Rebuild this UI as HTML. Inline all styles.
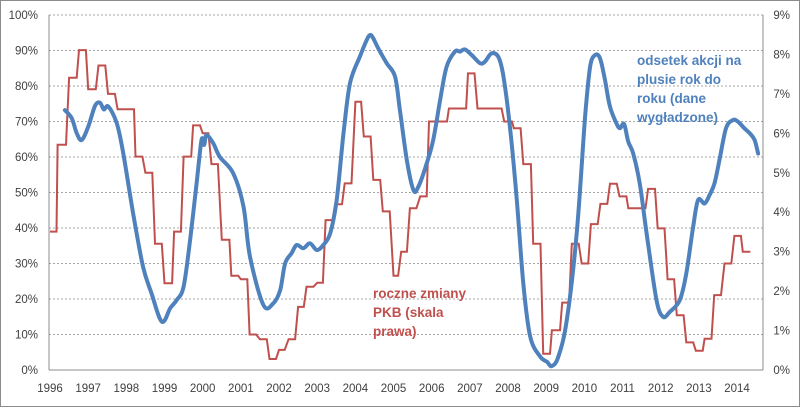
<!DOCTYPE html>
<html><head><meta charset="utf-8">
<style>
html,body{margin:0;padding:0;background:#fff;}
body{width:800px;height:407px;overflow:hidden;font-family:"Liberation Sans",sans-serif;}
svg text{font-family:"Liberation Sans",sans-serif;}
</style></head>
<body>
<svg id="chart" width="800" height="407" xmlns="http://www.w3.org/2000/svg">
<rect x="0.5" y="0.5" width="799" height="406" fill="#fff" stroke="#8c8c8c" stroke-width="1"/>
<g id="grid"></g>
<g id="axes"></g>
<g id="series"></g>
<text fill="#4f81bd" font-size="13.5" font-weight="bold">
<tspan x="637" y="65">odsetek akcji na</tspan>
<tspan x="637" y="84">plusie rok do</tspan>
<tspan x="637" y="103">roku (dane</tspan>
<tspan x="637" y="122">wygładzone)</tspan>
</text>
<text fill="#c0504d" font-size="13.5" font-weight="bold">
<tspan x="373" y="298">roczne zmiany</tspan>
<tspan x="373" y="317">PKB (skala</tspan>
<tspan x="373" y="336">prawa)</tspan>
</text>
</svg>
<script>
const leftTicks = ["0%","10%","20%","30%","40%","50%","60%","70%","80%","90%","100%"];
const rightTicks = ["0%","1%","2%","3%","4%","5%","6%","7%","8%","9%"];
const yearTicks = [1996,1997,1998,1999,2000,2001,2002,2003,2004,2005,2006,2007,2008,2009,2010,2011,2012,2013,2014];

const blueYears = [1996.39,1996.57,1996.70,1996.83,1997.0,1997.18,1997.31,1997.41,1997.53,1997.75,1997.92,1998.18,1998.44,1998.66,1998.93,1999.15,1999.32,1999.50,1999.67,1999.84,1999.97,2000.04,2000.10,2000.28,2000.45,2000.80,2001.07,2001.24,2001.59,2001.85,2002.03,2002.16,2002.33,2002.46,2002.64,2002.81,2002.99,2003.16,2003.34,2003.51,2003.69,2003.86,2004.12,2004.30,2004.39,2004.47,2004.60,2004.82,2005.04,2005.17,2005.35,2005.52,2005.65,2005.87,2006.04,2006.22,2006.39,2006.61,2006.74,2006.87,2007.05,2007.27,2007.40,2007.57,2007.75,2007.88,2008.05,2008.23,2008.40,2008.58,2008.84,2009.02,2009.15,2009.32,2009.54,2009.80,2010.02,2010.15,2010.28,2010.41,2010.54,2010.67,2010.84,2010.93,2011.04,2011.15,2011.28,2011.45,2011.63,2011.89,2012.06,2012.24,2012.50,2012.67,2012.85,2012.98,2013.15,2013.28,2013.41,2013.54,2013.71,2013.89,2014.02,2014.19,2014.33,2014.46,2014.55];
const blueValues = [73.2,70.9,66.7,64.8,68.5,74.4,75.3,73.4,74.2,69.5,61,44,29,21.6,13.6,17.4,19.7,23.5,36.6,52.6,64.8,63.4,66.2,63.8,60,55.4,46,31.9,18.3,18.8,22.5,30,32.9,35.2,34.3,35.7,33.8,35.2,38.5,47.9,66.7,80.8,88.3,93,94.4,93.4,90.6,86.4,82.6,73,59,50.7,51.6,58.2,64.8,76,85.4,89.7,89.7,90.3,88.7,86.4,86.9,89.2,88.1,82.6,68.5,47.9,24.4,9.4,3.8,2.3,1.1,3.8,14.1,38.5,71.4,85.4,88.7,87.8,81.7,74.2,69.5,68.1,69.3,64.3,61,52.6,38.5,19.7,15,16.4,19.7,27.2,40.4,47.9,46.9,49.3,52.6,59.2,68.1,70.4,70,68.1,66.7,64.8,61];

const redStart = [1996.0,1996.2,1996.5,1996.76,1997.0,1997.27,1997.52,1997.77,1998.24,1998.5,1998.75,1999.0,1999.25,1999.5,1999.75,2000.0,2000.23,2000.5,2000.75,2001.0,2001.23,2001.5,2001.75,2002.0,2002.25,2002.5,2002.72,2003.0,2003.22,2003.47,2003.72,2004.0,2004.22,2004.47,2004.72,2005.0,2005.2,2005.43,2005.7,2005.93,2006.45,2006.95,2007.2,2007.9,2008.15,2008.4,2008.66,2008.92,2009.15,2009.42,2009.67,2009.93,2010.17,2010.42,2010.67,2010.92,2011.15,2011.67,2011.92,2012.18,2012.42,2012.67,2012.92,2013.15,2013.4,2013.67,2013.93,2014.15];
const redEnd = [1996.17,1996.42,1996.7,1996.94,1997.2,1997.45,1997.7,1998.2,1998.42,1998.68,1998.93,1999.2,1999.43,1999.7,1999.93,2000.15,2000.4,2000.7,2000.93,2001.17,2001.4,2001.68,2001.92,2002.15,2002.42,2002.65,2002.9,2003.15,2003.4,2003.65,2003.9,2004.15,2004.4,2004.65,2004.9,2005.12,2005.35,2005.6,2005.87,2006.4,2006.9,2007.12,2007.83,2008.1,2008.33,2008.6,2008.85,2009.1,2009.36,2009.6,2009.85,2010.1,2010.35,2010.6,2010.85,2011.1,2011.6,2011.85,2012.1,2012.35,2012.6,2012.85,2013.1,2013.33,2013.58,2013.85,2014.1,2014.35];
const redValues = [3.51,5.71,7.41,8.11,7.12,7.72,7.0,6.61,5.41,5.0,3.2,2.2,3.51,5.41,6.2,6.0,5.22,3.3,2.39,2.3,0.9,0.78,0.28,0.51,0.78,1.6,2.11,2.21,3.8,4.2,4.73,6.8,5.92,4.82,4.02,2.39,3.0,4.1,4.4,6.3,6.63,7.52,6.63,6.3,6.13,5.22,3.2,0.41,1.01,1.71,3.2,2.7,3.7,4.21,4.72,4.4,4.1,4.59,3.59,2.3,1.39,0.70,0.49,0.79,1.9,2.7,3.4,3.0];

const NS = "http://www.w3.org/2000/svg";
const PL = 49, PR = 763, PT = 15, PB = 370;
const xScale = t => 50 + (t - 1996) * 38.17;
const yLeft = v => PB - v / 100 * (PB - PT);
const yRight = v => PB - v / 9 * (PB - PT);
function mk(tag, attrs, parent, txt){
  const e = document.createElementNS(NS, tag);
  for (const k in attrs) e.setAttribute(k, attrs[k]);
  if (txt !== undefined) e.textContent = txt;
  parent.appendChild(e);
  return e;
}
const grid = document.getElementById('grid');
const axes = document.getElementById('axes');
const series = document.getElementById('series');

leftTicks.forEach((lab, i) => {
  const v = i * 10, y = yLeft(v);
  if (i > 0) {
    const g = mk('line', {x1: PL, x2: PR, y1: y, y2: y, stroke: '#a6a6a6', 'stroke-width': 1, 'stroke-dasharray': '2,2'}, grid);
    
    
  }
  const t = mk('text', {x: 38, y: y + 4, 'text-anchor': 'end', 'font-size': 11.5, fill: '#404040'}, axes, lab);
  
  
});
rightTicks.forEach((lab, i) => {
  const y = yRight(i);
  const t = mk('text', {x: 790, y: y + 4, 'text-anchor': 'end', 'font-size': 11.5, fill: '#404040'}, axes, lab);
  
  
});
yearTicks.forEach(yr => {
  const t = mk('text', {x: xScale(yr), y: 392, 'text-anchor': 'middle', 'font-size': 11.5, fill: '#404040'}, axes, String(yr));
  
  
});
const la = mk('line', {x1: PL, x2: PL, y1: PT, y2: PB, stroke: '#8c8c8c'}, axes);


const ra = mk('line', {x1: PR, x2: PR, y1: PT, y2: PB, stroke: '#8c8c8c'}, axes);


const ba = mk('line', {x1: PL, x2: PR, y1: PB, y2: PB, stroke: '#8c8c8c'}, axes);



let rd = '';
redValues.forEach((v, i) => {
  rd += (i === 0 ? 'M' : 'L') + xScale(redStart[i]).toFixed(1) + ',' + yRight(v).toFixed(1) + 'L' + xScale(redEnd[i]).toFixed(1) + ',' + yRight(v).toFixed(1);
});
const rp = mk('path', {d: rd, fill: 'none', stroke: '#c0504d', 'stroke-width': 2, 'stroke-linejoin': 'miter'}, series);



// smoothed (Catmull-Rom) blue line
const bpts = blueValues.map((v, i) => [xScale(blueYears[i]), yLeft(v)]);
let bd = 'M' + bpts[0][0].toFixed(1) + ',' + bpts[0][1].toFixed(1);
for (let i = 0; i < bpts.length - 1; i++) {
  const p0 = bpts[Math.max(0, i - 1)], p1 = bpts[i], p2 = bpts[i + 1], p3 = bpts[Math.min(bpts.length - 1, i + 2)];
  const c1x = p1[0] + (p2[0] - p0[0]) / 6, c1y = p1[1] + (p2[1] - p0[1]) / 6;
  const c2x = p2[0] - (p3[0] - p1[0]) / 6, c2y = p2[1] - (p3[1] - p1[1]) / 6;
  bd += 'C' + c1x.toFixed(1) + ',' + c1y.toFixed(1) + ' ' + c2x.toFixed(1) + ',' + c2y.toFixed(1) + ' ' + p2[0].toFixed(1) + ',' + p2[1].toFixed(1);
}
const bp = mk('path', {d: bd, fill: 'none', stroke: '#4f81bd', 'stroke-width': 4, 'stroke-linejoin': 'round', 'stroke-linecap': 'round'}, series);


</script>
</body></html>
